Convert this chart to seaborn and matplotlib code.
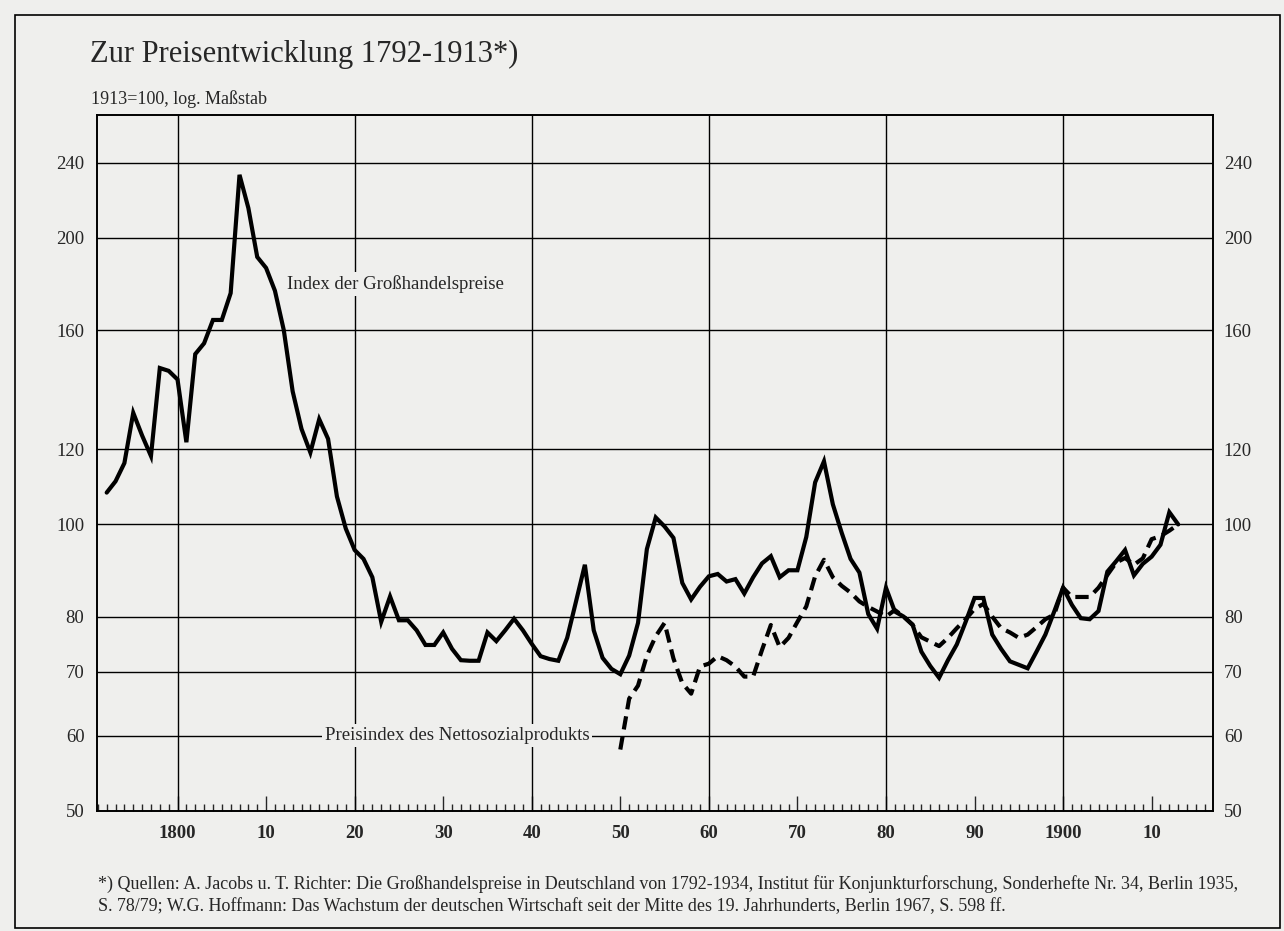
import numpy as np
import pandas as pd
import matplotlib
matplotlib.use("Agg")
import matplotlib.pyplot as plt
import matplotlib.ticker as mticker
from matplotlib.patches import Rectangle
import seaborn as sns

# ===== Daten (1913 = 100) =====
jahre_gh = list(range(1792, 1914))
grosshandel = [
    108, 111, 116, 131, 124, 118, 146, 145, 142, 122,
    151, 155, 164, 164, 175, 233, 215, 191, 186, 176,
    160, 138, 126, 119, 129, 123, 107, 99, 94, 92,
    88, 79, 84, 79.3, 79.3, 77.4, 74.7, 74.7, 77, 74,
    72, 71.9, 71.9, 77, 75.4, 77.4, 79.6, 77.4, 74.9, 72.7,
    72.2, 71.9, 76, 83, 90.7, 77.4, 72.4, 70.5, 69.6, 72.8,
    78.8, 94.2, 101.7, 99.5, 96.8, 86.8, 83.4, 86, 88.2, 88.7,
    87.1, 87.6, 84.6, 88, 91, 92.6, 88, 89.5, 89.5, 97,
    110.7, 116.5, 105, 98, 92, 89, 80.5, 77.7, 85.8, 81,
    80, 78.5, 73.5, 71, 69, 72, 74.8, 79, 83.7, 83.7,
    76.6, 74, 71.8, 71.2, 70.6, 73.5, 76.6, 81, 85.8, 82.3,
    79.7, 79.5, 81.1, 89.2, 91.5, 94, 88.4, 90.9, 92.5, 95.2,
    103, 100,
]
jahre_ns = list(range(1850, 1914))
nettosozial = [
    58, 65.6, 67.7, 72.8, 76.3, 78.8, 72.3, 68.1, 66.4, 70.9,
    71.4, 72.7, 72, 70.9, 69.2, 69.2, 73.8, 78.4, 74.3, 76,
    79, 82, 88.2, 91.8, 88, 86.2, 84.8, 83, 81.9, 81,
    80, 81.3, 80, 78.4, 76.1, 75.3, 74.5, 76, 77.8, 79.5,
    81.5, 82.5, 80, 77.8, 77, 76, 76.6, 78, 79.5, 80.4,
    85.8, 83.9, 83.9, 83.9, 85.8, 88.5, 91.2, 92.2, 90.7, 92.1,
    96.5, 97.2, 98.5, 100,
]

y_ticks = [50, 60, 70, 80, 100, 120, 160, 200, 240]
x_ticks = list(range(1800, 1911, 10))
x_labels = ["1800", "10", "20", "30", "40", "50", "60", "70", "80", "90", "1900", "10"]
gitter_jahre = [1800, 1820, 1840, 1860, 1880, 1900]

df_gh = pd.DataFrame({"Jahr": jahre_gh, "Index": grosshandel})
df_ns = pd.DataFrame({"Jahr": jahre_ns, "Index": nettosozial})

# ===== Stil =====
sns.set_style("white")
plt.rcParams["font.family"] = ["Liberation Serif", "DejaVu Serif"]
bg = "#efefed"

fig = plt.figure(figsize=(12.84, 9.31), dpi=100, facecolor=bg)
ax = fig.add_axes([0.0755, 0.129, 0.869, 0.747])
ax.set_facecolor(bg)

sns.lineplot(data=df_gh, x="Jahr", y="Index", color="black", lw=3.0, ax=ax,
             zorder=4, solid_joinstyle="miter")
sns.lineplot(data=df_ns, x="Jahr", y="Index", color="black", lw=3.0, ax=ax,
             zorder=4, linestyle="--")
ax.lines[-1].set_dashes([3.2, 1.7])

ax.set_yscale("log")
ax.set_ylim(50, 269)
ax.set_xlim(1790.9, 1916.9)

ax.yaxis.set_major_locator(mticker.FixedLocator(y_ticks))
ax.yaxis.set_major_formatter(mticker.FixedFormatter([str(v) for v in y_ticks]))
ax.yaxis.set_minor_locator(mticker.NullLocator())
ax.xaxis.set_major_locator(mticker.FixedLocator(x_ticks))
ax.xaxis.set_major_formatter(mticker.FixedFormatter(x_labels))
ax.xaxis.set_minor_locator(mticker.MultipleLocator(1))

ax.grid(axis="y", color="black", lw=1.0)
ax.set_axisbelow(True)
ax.vlines(gitter_jahre, 50, 269, color="black", lw=1.0, zorder=1)

ax.tick_params(axis="x", which="major", direction="in", length=11, width=1.0,
               pad=10, labelsize=13.5, bottom=True)
ax.tick_params(axis="x", which="minor", direction="in", length=5, width=1.0, bottom=True)
ax.tick_params(axis="y", length=0, pad=9, labelsize=13.5)
for lab in ax.get_xticklabels():
    lab.set_fontweight("bold")

# rechte Achse mit denselben Werten
ax2 = ax.twinx()
ax2.set_yscale("log")
ax2.set_ylim(ax.get_ylim())
ax2.yaxis.set_major_locator(mticker.FixedLocator(y_ticks))
ax2.yaxis.set_major_formatter(mticker.FixedFormatter([str(v) for v in y_ticks]))
ax2.yaxis.set_minor_locator(mticker.NullLocator())
ax2.tick_params(axis="y", length=0, pad=8, labelsize=13.5)
ax2.grid(False)

for a in (ax, ax2):
    for s in a.spines.values():
        s.set_color("black")
        s.set_linewidth(1.2)

ax.set_xlabel("")
ax.set_ylabel("")

# Beschriftungen der Kurven
box = dict(facecolor=bg, edgecolor="none", pad=2)
ax.text(1812.4, 179, "Index der Großhandelspreise", fontsize=13.5,
        va="center", ha="left", bbox=box, zorder=2)
ax.text(1816.6, 60, "Preisindex des Nettosozialprodukts", fontsize=13.5,
        va="center", ha="left", bbox=box, zorder=2)

# Titel, Untertitel, Fußnote
fig.text(0.070, 1 - 62 / 931, "Zur Preisentwicklung 1792-1913*)", fontsize=22,
         va="baseline", ha="left")
fig.text(0.071, 1 - 104 / 931, "1913=100, log. Maßstab", fontsize=13,
         va="baseline", ha="left")
fig.text(0.076, 1 - 889 / 931,
         "*) Quellen: A. Jacobs u. T. Richter: Die Großhandelspreise in Deutschland von 1792-1934, "
         "Institut für Konjunkturforschung, Sonderhefte Nr. 34, Berlin 1935,",
         fontsize=13, va="baseline", ha="left")
fig.text(0.076, 1 - 911 / 931,
         "S. 78/79; W.G. Hoffmann: Das Wachstum der deutschen Wirtschaft seit der Mitte des "
         "19. Jahrhunderts, Berlin 1967, S. 598 ff.",
         fontsize=13, va="baseline", ha="left")

# Rahmen
fig.patches.append(Rectangle((15 / 1284, 1 - 928 / 931), 1265 / 1284, 913 / 931,
                             transform=fig.transFigure, fill=False,
                             edgecolor="black", lw=1.2))

fig.savefig("out.png", dpi=100, facecolor=bg)
